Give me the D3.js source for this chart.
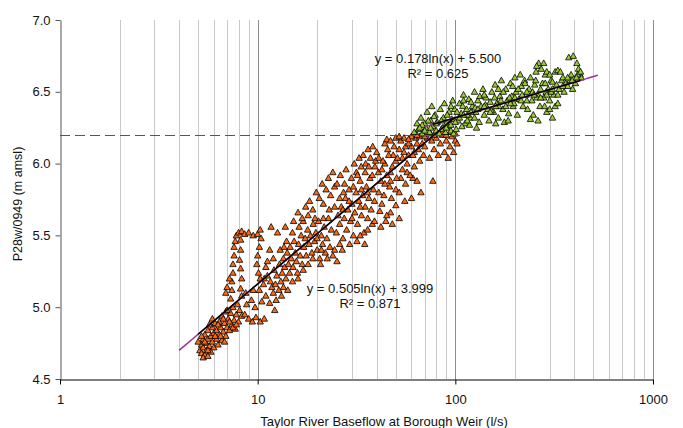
<!DOCTYPE html>
<html>
<head>
<meta charset="utf-8">
<script src="https://cdn.jsdelivr.net/npm/d3@7"></script>
<style>
  body { margin: 0; background: #fff; }
  svg { font-family: "Liberation Sans", Arial, sans-serif; }
</style>
</head>
<body>
<div id="chart"></div>
<script>
// orange series: below the 6.2 m level  [flow l/s, level m]
var lowPts = [
  [5.1,4.70],[5.2,4.74],[5.2,4.68],[5.3,4.78],[5.3,4.72],[5.4,4.67],[5.4,4.81],[5.5,4.75],[5.5,4.70],[5.6,4.78],
  [5.6,4.84],[5.7,4.73],[5.8,4.80],[5.8,4.69],[5.9,4.86],[5.9,4.76],[6.0,4.82],[6.0,4.72],[6.1,4.89],[6.2,4.78],
  [6.2,4.84],[6.3,4.74],[6.4,4.90],[6.4,4.81],[6.5,4.86],[6.6,4.77],[6.6,4.94],[6.7,4.83],[6.8,4.89],[6.9,4.80],
  [6.9,4.97],[7.0,4.86],[7.1,4.92],[7.2,4.84],[7.3,4.96],[7.4,4.88],[7.5,5.00],[7.6,4.91],[7.7,4.85],[7.8,4.95],
  [7.9,5.02],[8.0,4.90],[8.1,4.98],[5.0,4.76],[5.3,4.65],
  [5.2,4.80],[5.4,4.76],[5.6,4.70],[5.7,4.88],[5.9,4.92],[6.1,4.80],[6.3,4.88],[6.5,4.80],[6.7,4.92],[6.8,4.76],
  [7.0,4.98],[7.2,4.90],[7.5,4.86],[7.8,4.88],[8.3,4.94],[5.6,4.66],
  [7.3,5.06],[7.4,5.12],[7.4,5.18],[7.5,5.24],[7.5,5.30],[7.6,5.36],[7.6,5.42],[7.7,5.46],[7.8,5.50],[8.0,5.52],
  [8.3,5.53],[8.6,5.51],[9.0,5.52],[9.5,5.50],[10.0,5.51],[10.4,5.48],[10.2,5.42],[10.0,5.36],[9.9,5.30],[10.1,5.24],
  [10.3,5.20],[8.2,5.47],[8.2,5.40],[8.1,5.33],[8.2,5.27],[8.3,5.20],[8.2,5.13],[8.3,5.08],[7.0,5.14],[7.2,5.20],
  [6.9,5.10],[11.5,5.40],[11.2,5.32],
  [8.6,4.95],[9.0,4.92],[9.4,4.90],[9.8,4.93],[10.3,4.90],[10.8,4.92],[8.8,5.02],[9.3,5.05],[9.7,5.00],[10.5,5.04],
  [11.0,5.08],[11.5,5.03],[12.0,5.10],[12.4,5.05],[12.8,5.12],[13.2,5.08],[11.8,5.14],[10.7,5.16],[9.5,5.12],[8.7,5.10],
  [13.5,5.14],[12.2,4.98],
  [10.2,5.12],[10.8,5.20],[11.2,5.22],[11.6,5.18],[12.1,5.26],[12.5,5.22],[12.9,5.30],[13.1,5.18],[13.3,5.24],[13.5,5.34],
  [13.7,5.28],[13.9,5.20],[14.1,5.38],[14.2,5.12],[14.3,5.30],[14.5,5.24],[14.6,5.42],[14.8,5.34],[15.0,5.18],[15.1,5.28],
  [15.3,5.46],[15.5,5.38],[15.7,5.32],[15.9,5.24],[16.1,5.44],[16.4,5.36],[16.6,5.50],[16.8,5.30],[17.1,5.42],[17.4,5.48],
  [17.6,5.36],[17.9,5.54],[18.2,5.44],[18.5,5.50],[18.8,5.38],[19.1,5.58],[19.4,5.46],[19.7,5.52],[20.0,5.40],[20.3,5.60],
  [20.6,5.34],[21.0,5.50],[21.3,5.44],[21.7,5.56],[22.0,5.38],[22.4,5.48],[22.8,5.62],[23.2,5.42],[23.6,5.54],[24.0,5.36],
  [11.0,5.28],[12.0,5.34],[13.0,5.40],[14.0,5.46],[15.0,5.52],[16.2,5.56],[17.0,5.60],[18.0,5.64],[19.5,5.62],[12.3,5.16],
  [13.6,5.42],[16.0,5.20],[17.0,5.26],[18.0,5.30],[19.0,5.34],[20.0,5.48],[21.5,5.62],[23.0,5.68],[24.5,5.70],[21.0,5.40],
  [13.8,5.56],[15.2,5.60],[16.0,5.66],[16.8,5.62],[17.5,5.70],[18.3,5.74],[19.0,5.68],[19.8,5.80],[20.5,5.76],[21.2,5.86],
  [21.5,5.72],[22.2,5.82],[22.8,5.90],[23.4,5.78],[24.0,5.94],[24.5,5.84],[10.3,5.54],[11.7,5.56],[12.6,5.52],
  [20.8,5.30],[22.5,5.34],[24.5,5.40],[26.0,5.44],[25.2,5.32],
  [25.0,5.52],[25.5,5.64],[26.0,5.58],[26.5,5.70],[27.0,5.48],[27.4,5.62],[27.8,5.76],[28.2,5.54],[28.6,5.68],[29.0,5.82],
  [29.5,5.60],[30.0,5.72],[30.5,5.50],[31.0,5.66],[31.5,5.80],[32.0,5.58],[32.5,5.74],[33.0,5.88],[33.5,5.64],[34.0,5.78],
  [34.5,5.52],[35.0,5.70],[35.5,5.84],[36.0,5.62],[36.5,5.76],[37.0,5.90],[37.5,5.68],[38.0,5.58],[38.5,5.82],[26.8,5.40],
  [29.2,5.44],[31.8,5.46],[34.8,5.44],
  [25.2,5.86],[26.2,5.92],[27.2,5.80],[28.0,5.96],[29.8,5.90],[30.8,6.00],[31.6,5.94],[32.6,6.04],[33.4,5.98],
  [34.2,6.06],[35.2,6.00],[36.2,6.10],[37.2,6.04],[38.2,6.12],[39.2,5.98],[40.0,6.08],[40.8,5.94],
  [26.0,5.76],[27.5,5.86],[29.0,5.74],[30.5,5.84],[32.0,5.92],[33.5,5.82],[35.0,5.94],[36.5,5.98],[38.0,5.92],[39.5,6.02],
  [41.0,6.04],[42.5,5.96],[44.0,6.00],[45.5,6.10],[47.0,5.94],[48.5,6.06],[50.0,6.02],[52.0,6.10],[54.0,6.04],[56.0,6.12],
  [58.0,6.06],[60.0,6.12],[62.0,6.08],[64.0,6.14],[27.0,5.68],[30.0,5.62],[33.0,5.70],[36.0,5.80],[39.0,5.74],[41.0,5.80],
  [44.0,5.86],[47.0,5.88],[50.0,5.82],[53.0,5.90],[57.0,5.94],[61.0,5.90],
  [41.5,5.67],[42.0,5.88],[43.0,6.02],[43.5,5.78],[44.0,6.14],[45.0,5.92],[46.0,6.06],[46.5,5.84],[47.0,5.66],[48.0,5.98],
  [49.0,6.12],[50.0,5.71],[50.5,5.90],[51.0,6.04],[52.0,5.80],[53.0,6.16],[54.0,5.96],[55.0,6.08],[56.0,5.86],[57.0,6.00],
  [58.0,6.14],[59.0,5.92],[60.0,5.76],[61.0,6.06],[62.0,5.98],[63.0,6.18],[64.0,5.88],[65.0,6.10],[66.0,6.02],[67.0,5.80],
  [68.0,6.14],[69.0,6.06],[42.5,5.72],[44.5,5.60],[47.5,5.76],[55.5,5.74],
  [70,6.12],[72,6.18],[74,6.04],[76,6.16],[77,5.88],[78,6.10],[80,6.18],[82,6.06],[84,6.14],[86,6.20],
  [88,6.08],[90,6.16],[92,6.04],[94,6.12],[96,6.19],[98,6.08],[100,6.16],[102,6.14],[45,6.17],[50,6.18],
  [55,6.18],[60,6.19],[66,6.19],[75,6.21],[85,6.22],[95,6.22],
  [47,6.16],[52,6.19],[58,6.17],[64,6.20],[70,6.19],[78,6.20],[90,6.20],[100,6.21],
  [33,5.50],[36,5.54],[39,5.60],[42,5.56],[45,5.64],[48,5.58],[52,5.62]
];

// green series: above the 6.2 m level
var highPts = [
  [62,6.22],[65,6.24],[68,6.21],[71,6.25],[74,6.22],[77,6.26],[80,6.23],[83,6.21],[86,6.25],[89,6.22],
  [92,6.26],[95,6.23],[98,6.21],[101,6.24],
  [64,6.28],[67,6.32],[70,6.28],[72,6.36],[75,6.30],[76,6.40],[79,6.34],[81,6.29],[84,6.38],[87,6.32],
  [88,6.42],[90,6.28],[93,6.36],[96,6.31],[97,6.44],[99,6.38],[103,6.30],
  [105,6.42],[107,6.35],[110,6.48],[112,6.28],[114,6.38],[117,6.45],[119,6.32],[122,6.40],[125,6.50],[127,6.36],
  [130,6.44],[132,6.29],[135,6.40],[138,6.52],[140,6.34],[143,6.46],[146,6.38],[148,6.30],[150,6.43],[108,6.26],
  [118,6.27],[128,6.25],
  [153,6.50],[156,6.36],[159,6.55],[162,6.42],[165,6.32],[168,6.47],[171,6.58],[174,6.38],[177,6.29],[180,6.52],
  [183,6.44],[186,6.35],[190,6.56],[193,6.47],[196,6.40],[200,6.60],[203,6.50],[206,6.34],[210,6.45],[213,6.62],
  [216,6.54],[220,6.40],[160,6.28],[185,6.30],
  [224,6.58],[228,6.48],[232,6.38],[236,6.52],[240,6.60],[244,6.44],[248,6.34],[252,6.55],[256,6.64],[260,6.48],
  [264,6.70],[268,6.40],[272,6.66],[276,6.56],[280,6.46],[285,6.62],[290,6.36],[295,6.52],[300,6.44],[305,6.58],
  [310,6.32],[315,6.48],[240,6.31],[262,6.30],[283,6.40],[300,6.38],[320,6.40],[330,6.42],
  [258,6.68],[280,6.70],[290,6.64],
  [320,6.64],[330,6.65],[340,6.64],[335,6.52],[345,6.58],[355,6.50],[362,6.56],[370,6.54],[375,6.74],[395,6.75],
  [380,6.58],[392,6.52],[405,6.56],[412,6.70],[420,6.66],[428,6.62],[433,6.60],[415,6.62],[300,6.62],[310,6.57],
  [68,6.27],[73,6.30],[78,6.33],[85,6.30],[91,6.34],[95,6.40],[102,6.36],[109,6.40],[115,6.34],[120,6.43],
  [126,6.39],[133,6.47],[142,6.41],[152,6.37],[158,6.46],[166,6.40],[175,6.50],[188,6.46],[198,6.42],[208,6.52],
  [218,6.48],[230,6.44],[246,6.50],[258,6.46],[270,6.52],[288,6.50],[305,6.50],[325,6.55],[350,6.60],[385,6.62],
  [66,6.25],[70,6.23],[75,6.25],[80,6.28],[85,6.24],[90,6.25],[95,6.27],[100,6.29],[105,6.32],[110,6.34],
  [115,6.30],[120,6.36],[125,6.32],[130,6.38],[140,6.40],[150,6.36],[160,6.40],[170,6.44],[180,6.40],[190,6.42],
  [200,6.46],[215,6.44],[230,6.50],[250,6.48],[270,6.46],[290,6.48],[310,6.52],[330,6.48],[350,6.54],[370,6.60],
  [390,6.58],[410,6.60],[430,6.64],[110,6.44],[140,6.48],[165,6.52],[195,6.54],[225,6.56],[255,6.58],[285,6.56]
];

// log fits: level = a * ln(flow) + b
var fitLow = { a: 0.505, b: 3.999, r2: 0.871, trend: [4, 100], span: [5, 100] };
var fitHigh = { a: 0.178, b: 5.500, r2: 0.625, trend: [70, 526], span: [77, 430] };
var threshold = 6.2;
var thresholdSpan = [1, 700];

var xTicks = [1, 10, 100, 1000];
var yTicks = [4.5, 5.0, 5.5, 6.0, 6.5, 7.0];

function drawChart() {
    var width = 683, height = 428;
    var pLeft = 60, pRight = 653, pTop = 20, pBottom = 379;

    var svg = d3.select('#chart').append('svg')
        .attr('width', width)
        .attr('height', height);

    var x = d3.scaleLog().domain([1, 1000]).range([pLeft, pRight]);
    var y = d3.scaleLinear().domain([4.5, 7]).range([pBottom, pTop]);

    // vertical log grid
    var gridVals = [];
    [1, 10, 100].forEach(function(dec) {
        for (var m = 2; m <= 10; m++) gridVals.push(m * dec);
    });
    svg.append('g').selectAll('line')
        .data(gridVals)
        .enter()
        .append('line')
        .attr('x1', function(d) { return Math.round(x(d)) + 0.5; })
        .attr('x2', function(d) { return Math.round(x(d)) + 0.5; })
        .attr('y1', pTop)
        .attr('y2', pBottom)
        .attr('stroke', function(d) { return xTicks.indexOf(d) >= 0 ? '#8c8c8c' : '#c8c8c8'; })
        .attr('stroke-width', 1);

    // axes
    var yAxis = svg.append('g')
        .attr('transform', 'translate(' + (pLeft + 0.5) + ',0)')
        .call(d3.axisLeft(y).tickValues(yTicks).tickFormat(d3.format('.1f')).tickSize(5).tickSizeOuter(0).tickPadding(5));
    yAxis.select('.domain').attr('stroke', '#555');
    yAxis.selectAll('.tick line').attr('stroke', '#555');
    yAxis.selectAll('text').attr('font-size', 13).attr('fill', '#111').attr('font-family', '"Liberation Sans", Arial, sans-serif');

    var xAxis = svg.append('g')
        .attr('transform', 'translate(0,' + (pBottom + 0.5) + ')')
        .call(d3.axisBottom(x).tickValues(xTicks).tickFormat(d3.format('d')).tickSize(5).tickSizeOuter(0).tickPadding(10));
    xAxis.select('.domain').attr('stroke', '#000');
    xAxis.selectAll('text').attr('font-size', 13).attr('fill', '#111').attr('font-family', '"Liberation Sans", Arial, sans-serif');

    // markers
    var tri = 'M0,-3.2L3.2,2.5L-3.2,2.5Z';
    function drawPts(data, fill) {
        svg.append('g').selectAll('path')
            .data(data)
            .enter()
            .append('path')
            .attr('d', tri)
            .attr('transform', function(d) { return 'translate(' + x(d[0]) + ',' + y(d[1]) + ')'; })
            .attr('fill', fill)
            .attr('stroke', '#000')
            .attr('stroke-width', 0.8);
    }
    drawPts(lowPts, '#ff6a13');
    drawPts(highPts, '#99cc33');

    // threshold line
    var ty = Math.round(y(threshold)) + 0.5;
    svg.append('line')
        .attr('x1', x(thresholdSpan[0]))
        .attr('x2', x(thresholdSpan[1]))
        .attr('y1', ty)
        .attr('y2', ty)
        .attr('stroke', '#d42020')
        .attr('stroke-width', 1)
        .attr('stroke-dasharray', '10,5');

    // trend lines
    function fitLine(fit, range, color, w) {
        var pts = d3.range(0, 41).map(function(i) {
            var lx = Math.log10(range[0]) + i / 40 * (Math.log10(range[1]) - Math.log10(range[0]));
            var v = Math.pow(10, lx);
            return [v, fit.a * Math.log(v) + fit.b];
        });
        svg.append('path')
            .attr('d', d3.line().x(function(d) { return x(d[0]); }).y(function(d) { return y(d[1]); })(pts))
            .attr('fill', 'none')
            .attr('stroke', color)
            .attr('stroke-width', w);
    }
    fitLine(fitLow, fitLow.trend, '#993399', 1.5);
    fitLine(fitHigh, fitHigh.trend, '#993399', 1.5);
    fitLine(fitLow, fitLow.span, '#000', 1.5);
    fitLine(fitHigh, fitHigh.span, '#000', 1.5);

    // equations
    function eqText(fit, cx, cy) {
        var g = svg.append('g').attr('font-size', 13).attr('fill', '#111').attr('text-anchor', 'middle');
        g.append('text').attr('x', cx).attr('y', cy)
            .text('y = ' + fit.a.toFixed(3) + 'ln(x) + ' + fit.b.toFixed(3));
        g.append('text').attr('x', cx).attr('y', cy + 15)
            .text('R\u00b2 = ' + fit.r2.toFixed(3));
    }
    eqText(fitHigh, 438, 63);
    eqText(fitLow, 370, 293);

    // axis titles
    svg.append('text')
        .attr('x', 384)
        .attr('y', 426)
        .attr('text-anchor', 'middle')
        .attr('font-size', 13)
        .attr('fill', '#111')
        .text('Taylor River Baseflow at Borough Weir (l/s)');

    svg.append('text')
        .attr('transform', 'translate(22,204) rotate(-90)')
        .attr('text-anchor', 'middle')
        .attr('font-size', 12.5)
        .attr('fill', '#111')
        .text('P28w/0949 (m amsl)');
}

drawChart();
</script>
</body>
</html>
